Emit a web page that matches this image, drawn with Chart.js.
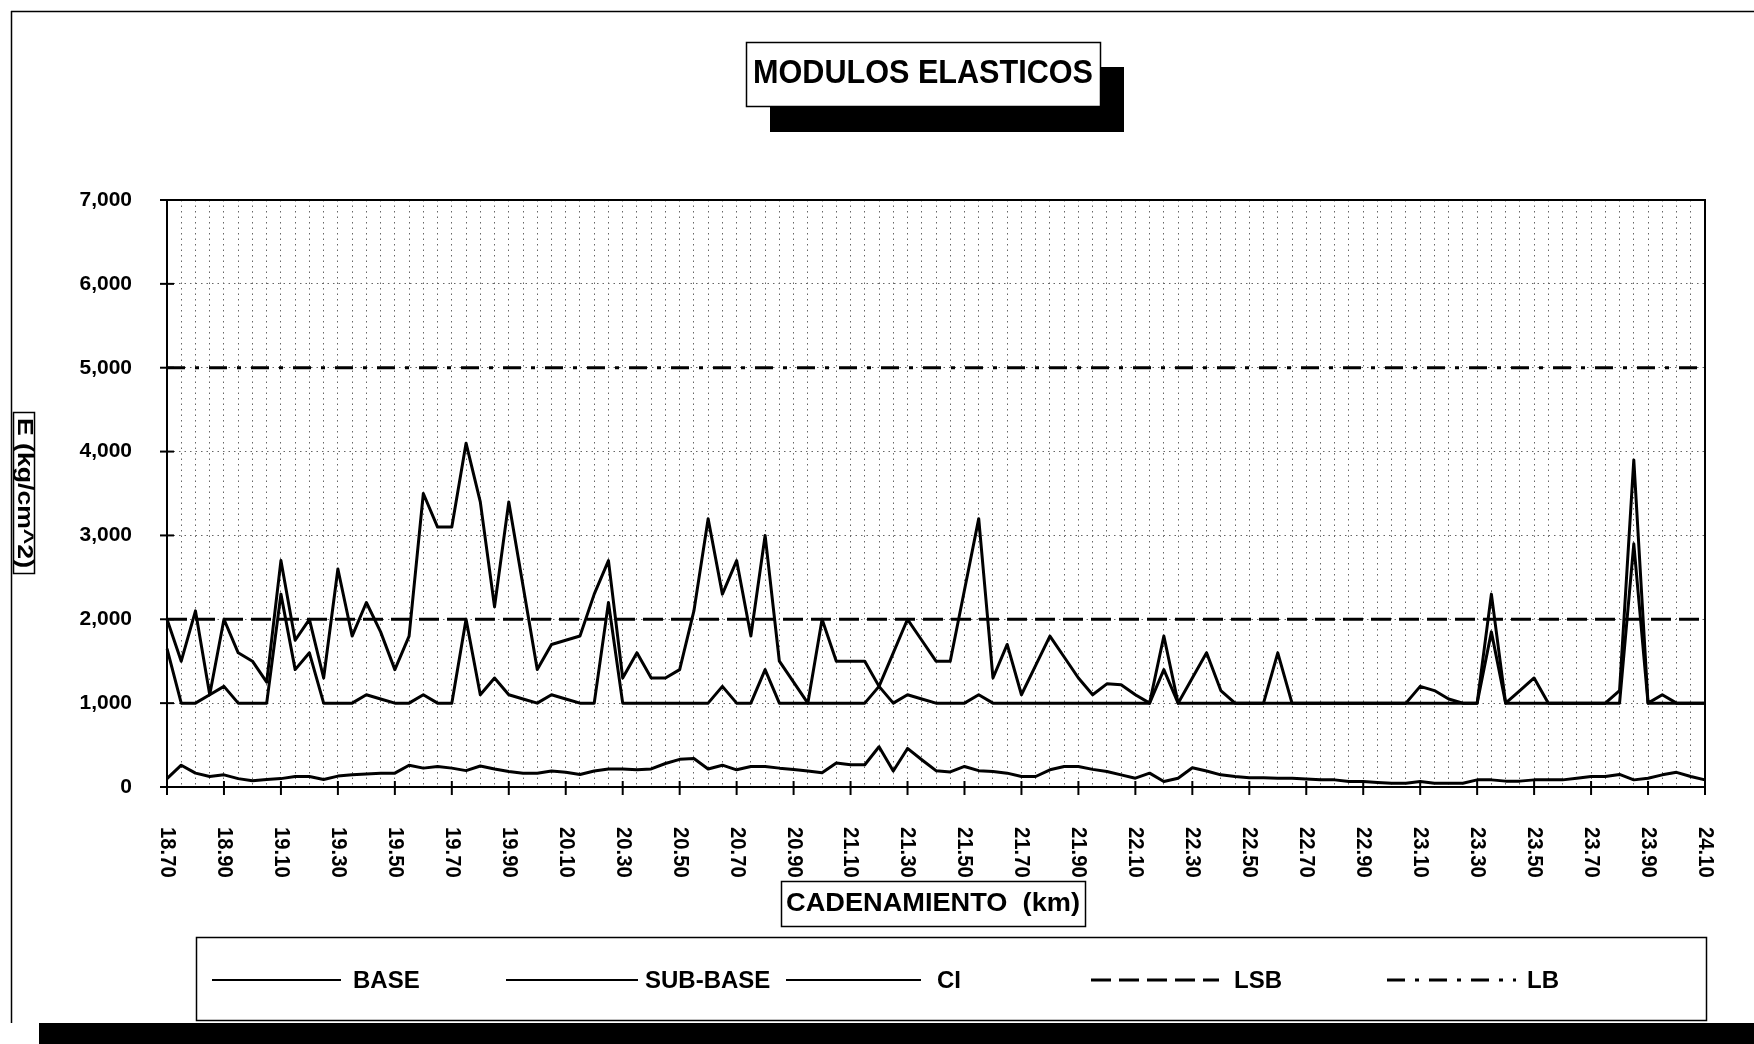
<!DOCTYPE html>
<html>
<head>
<meta charset="utf-8">
<title>Modulos elasticos</title>
<script src="https://cdn.jsdelivr.net/npm/chart.js@4.4.1/dist/chart.umd.min.js"></script>
<style>
  html, body { margin: 0; padding: 0; background: #fff; }
  canvas { display: block; }
</style>
</head>
<body>
<canvas id="myChart" width="1754" height="1044"></canvas>
<script>
// cadenamiento (km), one point every 50 m
var cadenamiento = [
  '18.70','18.75','18.80','18.85','18.90','18.95','19.00','19.05','19.10','19.15',
  '19.20','19.25','19.30','19.35','19.40','19.45','19.50','19.55','19.60','19.65',
  '19.70','19.75','19.80','19.85','19.90','19.95','20.00','20.05','20.10','20.15',
  '20.20','20.25','20.30','20.35','20.40','20.45','20.50','20.55','20.60','20.65',
  '20.70','20.75','20.80','20.85','20.90','20.95','21.00','21.05','21.10','21.15',
  '21.20','21.25','21.30','21.35','21.40','21.45','21.50','21.55','21.60','21.65',
  '21.70','21.75','21.80','21.85','21.90','21.95','22.00','22.05','22.10','22.15',
  '22.20','22.25','22.30','22.35','22.40','22.45','22.50','22.55','22.60','22.65',
  '22.70','22.75','22.80','22.85','22.90','22.95','23.00','23.05','23.10','23.15',
  '23.20','23.25','23.30','23.35','23.40','23.45','23.50','23.55','23.60','23.65',
  '23.70','23.75','23.80','23.85','23.90','23.95','24.00','24.05','24.10'
];

// labels shown under the axis (every 200 m)
var etiquetasKm = [
  '18.70','18.90','19.10','19.30','19.50','19.70','19.90','20.10','20.30','20.50',
  '20.70','20.90','21.10','21.30','21.50','21.70','21.90','22.10','22.30','22.50',
  '22.70','22.90','23.10','23.30','23.50','23.70','23.90','24.10'
];

// E (kg/cm^2)
var base = [
  2000, 1500, 2100, 1100, 2000, 1600, 1500, 1250, 2700, 1750,
  2000, 1300, 2600, 1800, 2200, 1850, 1400, 1800, 3500, 3100,
  3100, 4100, 3400, 2150, 3400, 2400, 1400, 1700, 1750, 1800,
  2300, 2700, 1300, 1600, 1300, 1300, 1400, 2100, 3200, 2300,
  2700, 1800, 3000, 1500, 1250, 1000, 2000, 1500, 1500, 1500,
  1200, 1600, 2000, 1750, 1500, 1500, 2350, 3200, 1300, 1700,
  1100, 1450, 1800, 1550, 1300, 1100, 1230, 1220, 1100, 1000,
  1800, 1000, 1300, 1600, 1150, 1000, 1000, 1000, 1600, 1000,
  1000, 1000, 1000, 1000, 1000, 1000, 1000, 1000, 1200, 1150,
  1050, 1000, 1000, 2300, 1000, 1150, 1300, 1000, 1000, 1000,
  1000, 1000, 1150, 3900, 1000, 1100, 1000, 1000, 1000
];

var subBase = [
  1650, 1000, 1000, 1100, 1200, 1000, 1000, 1000, 2300, 1400,
  1600, 1000, 1000, 1000, 1100, 1050, 1000, 1000, 1100, 1000,
  1000, 2000, 1100, 1300, 1100, 1050, 1000, 1100, 1050, 1000,
  1000, 2200, 1000, 1000, 1000, 1000, 1000, 1000, 1000, 1200,
  1000, 1000, 1400, 1000, 1000, 1000, 1000, 1000, 1000, 1000,
  1200, 1000, 1100, 1050, 1000, 1000, 1000, 1100, 1000, 1000,
  1000, 1000, 1000, 1000, 1000, 1000, 1000, 1000, 1000, 1000,
  1400, 1000, 1000, 1000, 1000, 1000, 1000, 1000, 1000, 1000,
  1000, 1000, 1000, 1000, 1000, 1000, 1000, 1000, 1000, 1000,
  1000, 1000, 1000, 1850, 1000, 1000, 1000, 1000, 1000, 1000,
  1000, 1000, 1000, 2900, 1000, 1000, 1000, 1000, 1000
];

var ci = [
  100, 260, 165, 125, 145, 100,  75,  90, 100, 125,
  125,  90, 130, 145, 155, 165, 165, 260, 225, 245,
  225, 195, 250, 215, 185, 165, 165, 190, 175, 150,
  190, 215, 215, 205, 215, 280, 330, 340, 215, 260,
  205, 245, 245, 225, 210, 190, 170, 285, 265, 265,
  480, 190, 460, 325, 195, 180, 245, 195, 185, 165,
  125, 125, 205, 245, 245, 210, 185, 145, 105, 165,
   65, 105, 230, 190, 145, 125, 110, 110, 105, 105,
   95,  85,  85,  65,  65,  55,  45,  45,  65,  45,
   45,  45,  85,  85,  70,  70,  85,  85,  85, 105,
  125, 125, 150,  85, 105, 145, 175, 125,  85
];

// limits: sub-base and base
var limiteSubBase = 2000;
var limiteBase = 5000;

var FONT = "'Liberation Sans', Arial, Helvetica, sans-serif";

// text squeezed or stretched to a given width
function fitText(ctx, text, cx, cy, px, width, angle) {
  ctx.save();
  ctx.font = 'bold ' + px + 'px ' + FONT;
  var w = ctx.measureText(text).width;
  ctx.translate(cx, cy);
  if (angle) ctx.rotate(angle);
  ctx.scale(width / w, 1);
  ctx.textAlign = 'center';
  ctx.textBaseline = 'middle';
  ctx.fillStyle = '#000';
  ctx.fillText(text, 0, 0);
  ctx.restore();
}

function line(ctx, x1, y1, x2, y2) {
  ctx.beginPath();
  ctx.moveTo(x1, y1);
  ctx.lineTo(x2, y2);
  ctx.stroke();
}

var decorations = {
  id: 'decorations',
  beforeDraw: function(chart) {
    var ctx = chart.ctx;
    ctx.save();
    ctx.fillStyle = '#fff';
    ctx.fillRect(0, 0, chart.width, chart.height);

    // sheet frame and its shadow
    ctx.fillStyle = '#000';
    ctx.fillRect(39, 1023, chart.width - 39, 21);
    ctx.strokeStyle = '#000';
    ctx.lineWidth = 1.5;
    line(ctx, 11, 11.5, chart.width, 11.5);
    line(ctx, 11.5, 11, 11.5, 1023);

    // title box with drop shadow
    ctx.fillStyle = '#000';
    ctx.fillRect(770, 67, 354, 65);
    ctx.fillStyle = '#fff';
    ctx.fillRect(746, 42, 354, 64);
    ctx.lineWidth = 1.5;
    ctx.strokeRect(746.5, 42.5, 354, 64);
    fitText(ctx, 'MODULOS ELASTICOS', 923, 74, 34, 340);

    // axis titles
    ctx.strokeRect(13.5, 412.5, 21, 161);
    fitText(ctx, 'E (kg/cm^2)', 24, 493, 22, 150, Math.PI / 2);
    ctx.strokeRect(781.5, 881.5, 304, 45);
    fitText(ctx, 'CADENAMIENTO  (km)', 933, 904, 25, 294);

    // legend
    ctx.strokeRect(196.5, 937.5, 1510, 83);
    var items = [
      { sample: [212, 341], text: 353 },
      { sample: [506, 638], text: 645 },
      { sample: [786, 921], text: 937 },
      { sample: [1091, 1219], text: 1234 },
      { sample: [1387, 1516], text: 1527 }
    ];
    chart.data.datasets.forEach(function(ds, i) {
      var it = items[i];
      ctx.save();
      ctx.strokeStyle = '#000';
      ctx.lineWidth = i < 3 ? 2 : ds.borderWidth;
      ctx.setLineDash(ds.borderDash || []);
      line(ctx, it.sample[0], 980, it.sample[1], 980);
      ctx.restore();
      ctx.font = 'bold 24px ' + FONT;
      ctx.fillStyle = '#000';
      ctx.textAlign = 'left';
      ctx.textBaseline = 'middle';
      ctx.fillText(ds.label, it.text, 981);
    });
    ctx.restore();
  },
  afterDraw: function(chart) {
    var ctx = chart.ctx;
    var a = chart.chartArea;
    var xs = chart.scales.x;
    var ys = chart.scales.y;
    ctx.save();
    ctx.strokeStyle = '#000';
    ctx.lineWidth = 2;
    ctx.strokeRect(a.left, a.top, a.right - a.left, a.bottom - a.top);

    ys.ticks.forEach(function(t) {
      var y = ys.getPixelForValue(t.value);
      line(ctx, a.left - 7, y, a.left + 7, y);
    });

    ctx.font = 'bold 22px ' + FONT;
    ctx.fillStyle = '#000';
    ctx.textAlign = 'left';
    ctx.textBaseline = 'middle';
    etiquetasKm.forEach(function(lbl) {
      var x = xs.getPixelForValue(cadenamiento.indexOf(lbl));
      line(ctx, x, a.bottom - 6, x, a.bottom + 8);
      ctx.save();
      ctx.translate(x, a.bottom + 40);
      ctx.rotate(Math.PI / 2);
      ctx.scale(0.92, 1);
      ctx.fillText(lbl, 0, 0);
      ctx.restore();
    });
    ctx.restore();
  }
};

var ctx = document.getElementById('myChart').getContext('2d');

var config = {
  type: 'line',
  data: {
    labels: cadenamiento,
    datasets: [
      { label: 'BASE', data: base, borderColor: '#000', borderWidth: 3 },
      { label: 'SUB-BASE', data: subBase, borderColor: '#000', borderWidth: 3 },
      { label: 'CI', data: ci, borderColor: '#000', borderWidth: 3 },
      {
        label: 'LSB',
        data: [{ x: cadenamiento[0], y: limiteSubBase }, { x: cadenamiento[cadenamiento.length - 1], y: limiteSubBase }],
        borderColor: '#000', borderWidth: 3, borderDash: [20, 8]
      },
      {
        label: 'LB',
        data: [{ x: cadenamiento[0], y: limiteBase }, { x: cadenamiento[cadenamiento.length - 1], y: limiteBase }],
        borderColor: '#000', borderWidth: 3, borderDash: [18, 10, 4, 10]
      }
    ]
  },
  options: {
    responsive: false,
    animation: false,
    devicePixelRatio: 1,
    layout: { padding: { top: 200, right: 49, left: 0, bottom: 0 } },
    elements: {
      point: { radius: 0 },
      line: { tension: 0, fill: false, borderJoinStyle: 'round' }
    },
    plugins: {
      legend: { display: false },
      tooltip: { enabled: false },
      title: { display: false }
    },
    scales: {
      x: {
        type: 'category',
        offset: false,
        afterFit: function(s) { s.height = 257; },
        ticks: { display: false, autoSkip: false },
        grid: { color: '#666', lineWidth: 1, drawTicks: false },
        border: { display: true, color: '#000', width: 2, dash: [1.5, 4] }
      },
      y: {
        min: 0,
        max: 7000,
        afterFit: function(s) { s.width = 167; },
        ticks: {
          stepSize: 1000,
          padding: 35,
          color: '#000',
          font: { family: FONT, size: 21, weight: 'bold' },
          callback: function(v) { return v.toLocaleString('en-US'); }
        },
        grid: { color: '#666', lineWidth: 1, drawTicks: false },
        border: { display: true, color: '#000', width: 2, dash: [1.5, 4] }
      }
    }
  },
  plugins: [decorations]
};

var chart = new Chart(ctx, config);
</script>
</body>
</html>
